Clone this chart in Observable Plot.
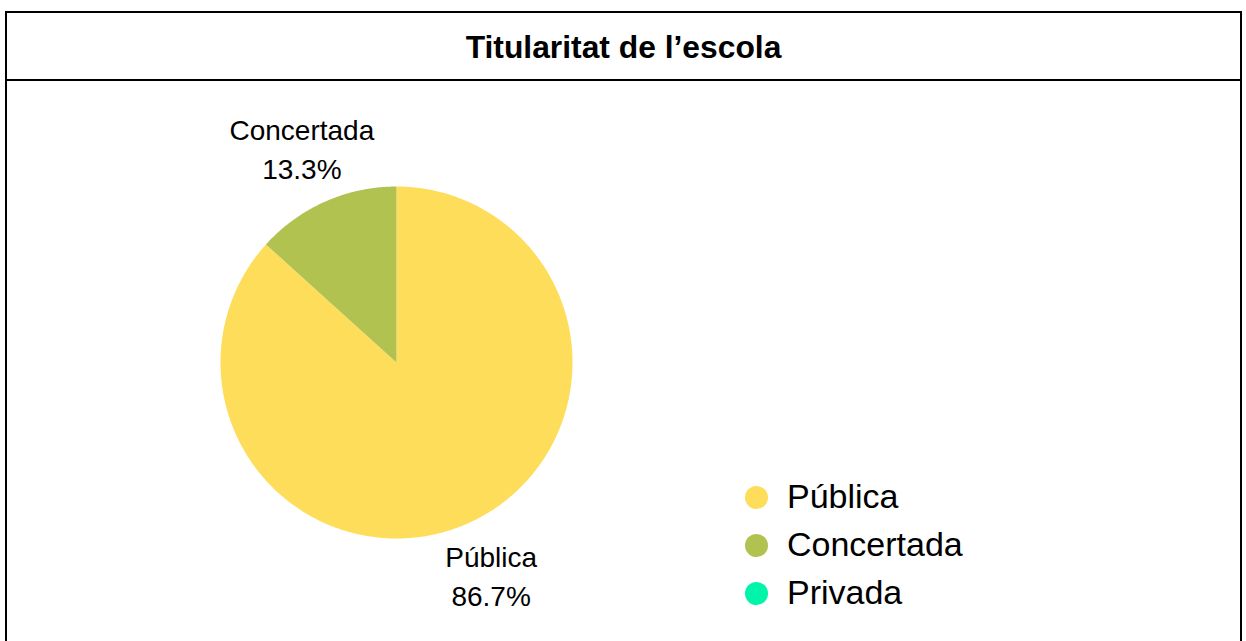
<!DOCTYPE html>
<html>
<head>
<meta charset="utf-8">
<script src="https://cdn.jsdelivr.net/npm/d3@7"></script>
<script src="https://cdn.jsdelivr.net/npm/@observablehq/plot@0.6"></script>
<style>
  html, body { margin: 0; padding: 0; background: #fff; width: 1246px; height: 641px; overflow: hidden; font-family: "Liberation Sans", Arial, sans-serif; }
  #frame { position: absolute; left: 5px; top: 11px; width: 1237px; height: 640px; border: 2.5px solid #000; border-bottom: none; box-sizing: border-box; }
  #title { position: absolute; left: 0; top: 0; width: 100%; height: 67.5px; border-bottom: 2.5px solid #000; box-sizing: border-box;
           text-align: center; font-weight: bold; font-size: 31.8px; line-height: 68px; color: #000; }
  #pie { position: absolute; left: 0; top: 80px; }
  #legend { position: absolute; left: 730px; top: 470px; }
</style>
</head>
<body>
<div id="frame"><div id="title">Titularitat de l’escola</div></div>
<div id="pie"></div>
<div id="legend"></div>
<script>
const categories = ["Pública", "Concertada", "Privada"];
const values = [86.7, 13.3, 0];
const colors = ["#FEDD5B", "#B1C251", "#00F5AA"];

const data = categories.map((c, i) => ({category: c, value: values[i]}));
const arcs = d3.pie().sort(null).value(d => d.value)(data);

// Outline points of each slice (centre + arc), in unit-radius coordinates
const slicePts = [];
for (const a of arcs) {
  if (a.endAngle - a.startAngle <= 0) continue;
  const n = Math.max(2, Math.ceil((a.endAngle - a.startAngle) / 0.01));
  slicePts.push({category: a.data.category, px: 0, py: 0});
  for (let k = 0; k <= n; k++) {
    const t = a.startAngle + (a.endAngle - a.startAngle) * k / n;
    slicePts.push({category: a.data.category, px: Math.sin(t), py: Math.cos(t)});
  }
  slicePts.push({category: a.data.category, px: 0, py: 0});
}
const labelR = 1.325;
const labels = arcs.filter(a => a.data.value > 0).map(a => {
  const m = (a.startAngle + a.endAngle) / 2;
  return {category: a.data.category, px: labelR * Math.sin(m), py: labelR * Math.cos(m),
          text: a.data.category + "\n" + a.data.value.toFixed(1) + "%"};
});

const color = {domain: categories, range: colors};

const pie = Plot.plot({
  width: 700, height: 561,
  margin: 0,
  x: {domain: [-1, 1], range: [220, 572], axis: null},
  y: {domain: [-1, 1], range: [458, 106], axis: null},
  color,
  style: {fontFamily: "'Liberation Sans', Arial, sans-serif", background: "transparent", overflow: "visible"},
  marks: [
    Plot.line(slicePts, {x: "px", y: "py", z: "category", fill: "category", stroke: null, curve: "linear-closed"}),
    Plot.text(labels, {x: "px", y: "py", text: "text", fontSize: 28, lineHeight: 1.39, dy: -2, fill: "#000", textAnchor: "middle"})
  ]
});
document.getElementById("pie").appendChild(pie);

const legend = Plot.plot({
  width: 300, height: 150,
  marginLeft: 26, marginRight: 0, marginTop: 3, marginBottom: 3,
  y: {domain: categories, type: "point", padding: 0, range: [27, 123], axis: null},
  x: {axis: null},
  color,
  style: {fontFamily: "'Liberation Sans', Arial, sans-serif", background: "transparent", overflow: "visible"},
  marks: [
    Plot.dot(categories, {y: d => d, fill: d => d, r: 11.5, frameAnchor: "left"}),
    Plot.text(categories, {y: d => d, text: d => d, frameAnchor: "left", dx: 30.5, textAnchor: "start", fontSize: 34, fill: "#000"})
  ]
});
document.getElementById("legend").appendChild(legend);
</script>
</body>
</html>
